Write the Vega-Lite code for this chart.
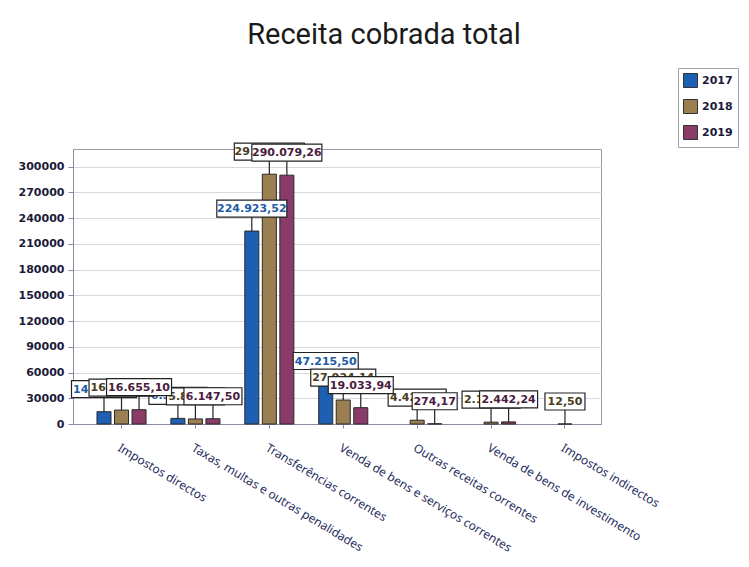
{
  "$schema": "https://vega.github.io/schema/vega-lite/v6.json",
  "width": 528,
  "height": 275,
  "autosize": "none",
  "padding": {"left": 73, "top": 149, "right": 148, "bottom": 143},
  "background": "white",
  "title": {
    "text": "Receita cobrada total",
    "font": "Roboto",
    "fontSize": 29,
    "fontWeight": "normal",
    "color": "#1a1a1a",
    "anchor": "middle",
    "baseline": "alphabetic",
    "offset": -5,
    "dx": 47
  },
  "config": {
    "locale": {"number": {"decimal": ",", "thousands": ".", "grouping": [3], "currency": ["", ""]}},
    "view": {"stroke": "#9a9aa8", "strokeWidth": 1},
    "axis": {"grid": false}
  },
  "data": {
    "values": [
      {"categoria": "Impostos directos", "ano": "2017", "valor": 14312.40},
      {"categoria": "Impostos directos", "ano": "2018", "valor": 16210.55},
      {"categoria": "Impostos directos", "ano": "2019", "valor": 16655.10},
      {"categoria": "Taxas, multas e outras penalidades", "ano": "2017", "valor": 6512.30},
      {"categoria": "Taxas, multas e outras penalidades", "ano": "2018", "valor": 5870.20},
      {"categoria": "Taxas, multas e outras penalidades", "ano": "2019", "valor": 6147.50},
      {"categoria": "Transferências correntes", "ano": "2017", "valor": 224923.52},
      {"categoria": "Transferências correntes", "ano": "2018", "valor": 291200.00},
      {"categoria": "Transferências correntes", "ano": "2019", "valor": 290079.26},
      {"categoria": "Venda de bens e serviços correntes", "ano": "2017", "valor": 47215.50},
      {"categoria": "Venda de bens e serviços correntes", "ano": "2018", "valor": 27924.14},
      {"categoria": "Venda de bens e serviços correntes", "ano": "2019", "valor": 19033.94},
      {"categoria": "Outras receitas correntes", "ano": "2018", "valor": 4420.00},
      {"categoria": "Outras receitas correntes", "ano": "2019", "valor": 274.17},
      {"categoria": "Venda de bens de investimento", "ano": "2018", "valor": 2150.00},
      {"categoria": "Venda de bens de investimento", "ano": "2019", "valor": 2442.24},
      {"categoria": "Impostos indirectos", "ano": "2018", "valor": 12.50}
    ]
  },
  "encoding": {
    "x": {
      "field": "categoria",
      "type": "nominal",
      "sort": null,
      "scale": {"paddingInner": 0.336, "paddingOuter": 0.24, "align": 0.676},
      "axis": {
        "title": null,
        "labelAngle": 31,
        "labelAlign": "left",
        "labelBaseline": "top",
        "labelFont": "Noto Sans",
        "labelFontSize": 12,
        "labelColor": "#1f2d5c",
        "labelPadding": 14,
        "labelLimit": 400,
        "labelOverlap": false,
        "domainColor": "#8a8aa0",
        "tickColor": "#8a8aa0",
        "tickSize": 4
      }
    },
    "xOffset": {
      "field": "ano",
      "type": "nominal",
      "scale": {"domain": ["2017", "2018", "2019"], "paddingInner": 0.2, "paddingOuter": 0}
    }
  },
  "layer": [
    {
      "mark": {"type": "bar", "stroke": "#2a2a2a", "strokeWidth": 1},
      "encoding": {
        "y": {
          "field": "valor",
          "type": "quantitative",
          "scale": {"domain": [0, 320600], "nice": false},
          "axis": {
            "title": null,
            "values": [0, 30000, 60000, 90000, 120000, 150000, 180000, 210000, 240000, 270000, 300000],
            "tickCount": 20,
            "format": "d",
            "labelOverlap": false,
            "labelFont": "DejaVu Sans",
            "labelFontSize": 11,
            "labelFontWeight": "bold",
            "labelColor": "#1b1b3b",
            "labelPadding": 4,
            "grid": true,
            "gridColor": "#d8d8e0",
            "domainColor": "#8a8aa0",
            "tickColor": "#8a8aa0",
            "tickSize": 5
          }
        },
        "color": {
          "field": "ano",
          "type": "nominal",
          "scale": {"domain": ["2017", "2018", "2019"], "range": ["#1d5fb2", "#9b7f50", "#8b3b67"]},
          "legend": {
            "title": null,
            "orient": "none",
            "legendX": 605,
            "legendY": -81,
            "symbolType": "square",
            "symbolSize": 196,
            "symbolStrokeColor": "#333333",
            "symbolStrokeWidth": 1,
            "symbolOpacity": 1,
            "labelFont": "DejaVu Sans",
            "labelFontSize": 11,
            "labelFontWeight": "bold",
            "labelColor": "#1b1b3b",
            "rowPadding": 7,
            "strokeColor": "#a0a0a8",
            "fillColor": "white",
            "padding": 5
          }
        }
      }
    },
    {
      "mark": {"type": "rule", "color": "#222222", "strokeWidth": 1.2, "y2Offset": -14},
      "encoding": {
        "y": {"field": "valor", "type": "quantitative"},
        "y2": {"field": "valor"}
      }
    },
    {
      "transform": [{"filter": "datum.ano == '2017'"}],
      "mark": {"type": "bar", "fill": "white", "stroke": "#222222", "strokeWidth": 1.2, "yOffset": -31, "y2Offset": -14},
      "encoding": {
        "y": {"field": "valor", "type": "quantitative"},
        "y2": {"field": "valor"},
        "size": {"field": "valor", "type": "quantitative", "legend": null, "scale": {"type": "threshold", "domain": [100, 1000, 10000, 100000], "range": [40, 45, 58, 65, 70]}}
      }
    },
    {
      "transform": [{"filter": "datum.ano == '2017'"}],
      "mark": {"type": "text", "font": "DejaVu Sans", "fontSize": 11, "fontWeight": "bold", "color": "#1d5aa8", "baseline": "middle", "yOffset": -22},
      "encoding": {
        "y": {"field": "valor", "type": "quantitative"},
        "text": {"field": "valor", "type": "quantitative", "format": ",.2f"}
      }
    },
    {
      "transform": [{"filter": "datum.ano == '2018'"}],
      "mark": {"type": "bar", "fill": "white", "stroke": "#222222", "strokeWidth": 1.2, "yOffset": -31, "y2Offset": -14},
      "encoding": {
        "y": {"field": "valor", "type": "quantitative"},
        "y2": {"field": "valor"},
        "size": {"field": "valor", "type": "quantitative", "legend": null, "scale": {"type": "threshold", "domain": [100, 1000, 10000, 100000], "range": [40, 45, 58, 65, 70]}}
      }
    },
    {
      "transform": [{"filter": "datum.ano == '2018'"}],
      "mark": {"type": "text", "font": "DejaVu Sans", "fontSize": 11, "fontWeight": "bold", "color": "#4a3c22", "baseline": "middle", "yOffset": -22},
      "encoding": {
        "y": {"field": "valor", "type": "quantitative"},
        "text": {"field": "valor", "type": "quantitative", "format": ",.2f"}
      }
    },
    {
      "transform": [{"filter": "datum.ano == '2019'"}],
      "mark": {"type": "bar", "fill": "white", "stroke": "#222222", "strokeWidth": 1.2, "yOffset": -31, "y2Offset": -14},
      "encoding": {
        "y": {"field": "valor", "type": "quantitative"},
        "y2": {"field": "valor"},
        "size": {"field": "valor", "type": "quantitative", "legend": null, "scale": {"type": "threshold", "domain": [100, 1000, 10000, 100000], "range": [40, 45, 58, 65, 70]}}
      }
    },
    {
      "transform": [{"filter": "datum.ano == '2019'"}],
      "mark": {"type": "text", "font": "DejaVu Sans", "fontSize": 11, "fontWeight": "bold", "color": "#4a1c40", "baseline": "middle", "yOffset": -22},
      "encoding": {
        "y": {"field": "valor", "type": "quantitative"},
        "text": {"field": "valor", "type": "quantitative", "format": ",.2f"}
      }
    }
  ]
}
